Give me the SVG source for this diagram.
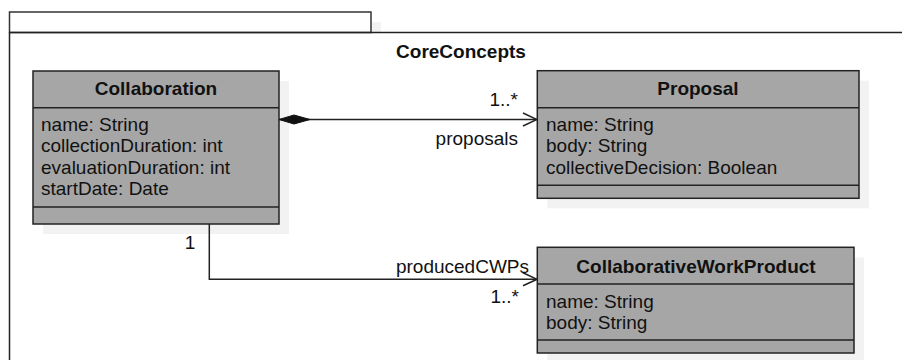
<svg xmlns="http://www.w3.org/2000/svg" width="902" height="360" viewBox="0 0 902 360">
<style>
text{font-family:"Liberation Sans",Arial,sans-serif;font-size:19px;fill:#111}
.b{font-weight:bold}
.box{fill:#a6a6a6;stroke:#222;stroke-width:1.5}
.sh{fill:#f2f2f2}
.ln{stroke:#222;stroke-width:1.5;fill:none}
.pk{stroke:#333;stroke-width:1.5;fill:#fff}
</style>
<defs>
<marker id="open" markerWidth="16" markerHeight="16" refX="15" refY="8" orient="auto" markerUnits="userSpaceOnUse">
<path d="M1,1.5 L15,8 L1,14.5" fill="none" stroke="#222" stroke-width="1.5"/>
</marker>
<marker id="diam" markerWidth="34" markerHeight="12" refX="1" refY="6" orient="auto" markerUnits="userSpaceOnUse">
<path d="M1,6 L16,1.5 L32,6 L16,10.5 Z" fill="#111" stroke="#111" stroke-width="1"/>
</marker>
</defs>
<g id="package">
<rect x="372" y="22" width="9" height="11" class="sh"/>
<rect x="9.5" y="12" width="361.5" height="20.5" class="pk"/>
<path d="M9.5,32.5 H903 M9.5,32.5 V361" class="ln" stroke="#333"/>
<text x="461" y="58" text-anchor="middle" class="b">CoreConcepts</text>
</g>
<g id="Collaboration">
<rect x="43" y="81" width="246" height="153" class="sh"/>
<rect x="33" y="71" width="246" height="153" class="box"/>
<path d="M33,107.7 H279 M33,207 H279" class="ln"/>
<text x="156" y="95" text-anchor="middle" class="b">Collaboration</text>
<text x="41" y="131">name: String</text>
<text x="41" y="152.3">collectionDuration: int</text>
<text x="41" y="173.6">evaluationDuration: int</text>
<text x="41" y="194.9">startDate: Date</text>
</g>
<g id="Proposal">
<rect x="547.3" y="80.7" width="321.7" height="127.6" class="sh"/>
<rect x="537.3" y="70.7" width="321.7" height="127.6" class="box"/>
<path d="M537.3,107.7 H859 M537.3,185.3 H859" class="ln"/>
<text x="698" y="95" text-anchor="middle" class="b">Proposal</text>
<text x="546" y="131">name: String</text>
<text x="546" y="152.3">body: String</text>
<text x="546" y="173.6">collectiveDecision: Boolean</text>
</g>
<g id="CollaborativeWorkProduct">
<rect x="547.3" y="257.3" width="316.7" height="105.7" class="sh"/>
<rect x="537.3" y="247.3" width="316.7" height="105.7" class="box"/>
<path d="M537.3,284 H854 M537.3,340 H854" class="ln"/>
<text x="696" y="272.5" text-anchor="middle" class="b">CollaborativeWorkProduct</text>
<text x="546" y="307.5">name: String</text>
<text x="546" y="328.8">body: String</text>
</g>
<g id="connectors">
<path d="M279,119.5 H537" class="ln" marker-start="url(#diam)" marker-end="url(#open)"/>
<text x="518" y="106" text-anchor="end">1..*</text>
<text x="518" y="145" text-anchor="end">proposals</text>
<path d="M209.3,224 V279.3 H537" class="ln" marker-end="url(#open)"/>
<text x="190" y="249" text-anchor="middle">1</text>
<text x="529" y="273" text-anchor="end">producedCWPs</text>
<text x="519" y="303" text-anchor="end">1..*</text>
</g>
</svg>
